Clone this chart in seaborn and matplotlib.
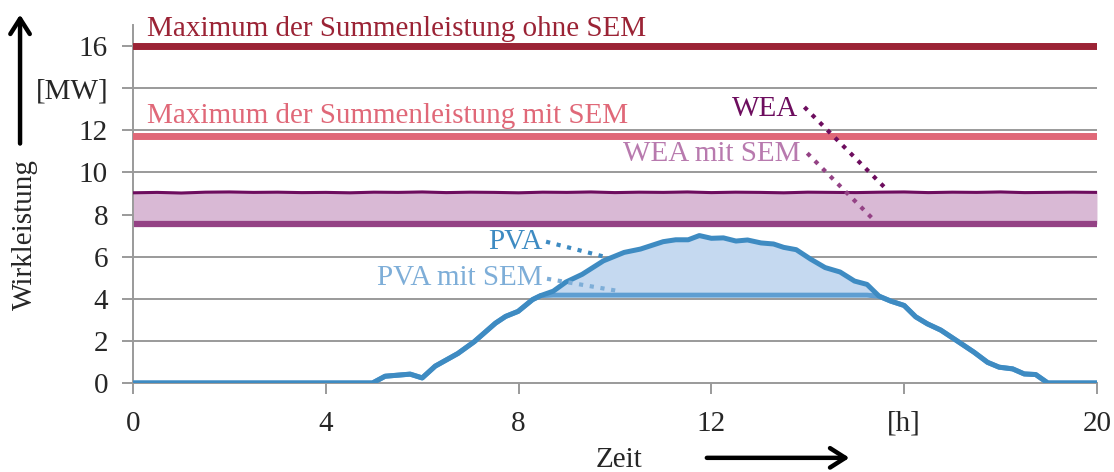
import matplotlib
matplotlib.use("Agg")
import matplotlib.pyplot as plt
import numpy as np
import pandas as pd
import seaborn as sns

# PV curve (hours, MW)
pva_h = [0, 4.97, 5.23, 5.75, 6.0, 6.27, 6.74, 7.08, 7.52, 7.73, 7.99, 8.29, 8.46,
         8.72, 8.98, 9.32, 9.76, 10.19, 10.53, 11.0, 11.26, 11.52, 11.75, 12.0,
         12.25, 12.51, 12.75, 13.03, 13.29, 13.5, 13.76, 14.06, 14.36, 14.67,
         14.97, 15.23, 15.48, 15.72, 16.0, 16.24, 16.48, 16.76, 17.11, 17.45,
         17.73, 17.97, 18.25, 18.49, 18.73, 18.98, 20]
pva_mw = [0, 0, 0.32, 0.42, 0.24, 0.8, 1.4, 1.96, 2.84, 3.16, 3.4, 3.96, 4.15,
          4.36, 4.79, 5.16, 5.8, 6.2, 6.36, 6.71, 6.8, 6.8, 7.0, 6.87,
          6.89, 6.74, 6.79, 6.65, 6.6, 6.44, 6.33, 5.88, 5.48, 5.27,
          4.84, 4.68, 4.12, 3.89, 3.68, 3.14, 2.81, 2.51, 1.98, 1.46,
          0.98, 0.75, 0.67, 0.43, 0.4, 0, 0]
pva_cap = 4.17

# wind curve, every half hour
wea_h = [i * 0.5 for i in range(41)]
wea_mw = [9.03, 9.05, 9.02, 9.06, 9.07, 9.05, 9.06, 9.04, 9.05, 9.03, 9.06, 9.05,
          9.07, 9.04, 9.06, 9.05, 9.03, 9.06, 9.05, 9.07, 9.04, 9.06, 9.05, 9.07,
          9.04, 9.06, 9.05, 9.03, 9.06, 9.05, 9.04, 9.06, 9.07, 9.04, 9.06, 9.05,
          9.07, 9.04, 9.05, 9.06, 9.05]
wea_sem = 7.55

max_ohne_sem = 16.0
max_mit_sem = 11.74

y_ticks = [0, 2, 4, 6, 8, 10, 12, 14, 16]
y_labels = ["0", "2", "4", "6", "8", "10", "12", "[MW]", "16"]
x_ticks = [0, 4, 8, 12, 16, 20]
x_labels = ["0", "4", "8", "12", "[h]", "20"]

c_max_ohne = "#9b2335"
c_max_mit = "#e06878"
c_wea = "#6d0d5e"
c_wea_sem = "#944285"
c_wea_sem_txt = "#b87aae"
c_wea_fill = "#d9b9d5"
c_pva = "#3e8bc2"
c_pva_sem = "#5e9ed2"
c_pva_sem_txt = "#7eaed8"
c_pva_fill = "#c5d9f0"
grid_c = "#9a9a9a"

sns.set_theme(style="white")
plt.rcParams["font.family"] = ["Liberation Serif", "DejaVu Serif"]

pva = pd.DataFrame({"h": pva_h, "mw": pva_mw})
pva["sem"] = np.minimum(pva["mw"], pva_cap)
wea = pd.DataFrame({"h": wea_h, "mw": wea_mw})
wea["sem"] = wea_sem

fig = plt.figure(figsize=(11.14, 4.72), dpi=100)
ax = fig.add_axes([0.1194, 0.1886, 0.8653, 0.7585])

for t in y_ticks[1:]:
    ax.axhline(t, color=grid_c, lw=1.4, zorder=0)

# wind
ax.fill_between(wea["h"], wea["sem"], wea["mw"] + 0.08, color=c_wea_fill, lw=0, zorder=1)
sns.lineplot(data=wea, x="h", y="sem", color=c_wea_sem, lw=4.5, ax=ax, zorder=2)
sns.lineplot(data=wea, x="h", y="mw", color=c_wea, lw=2.2, ax=ax, zorder=3)

# limits
ax.axhline(max_ohne_sem, color=c_max_ohne, lw=5, zorder=3)
ax.axhline(max_mit_sem, color=c_max_mit, lw=5, zorder=3)

# PV
ax.fill_between(pva["h"], pva["sem"], pva["mw"], where=pva["mw"] >= pva_cap,
                interpolate=True, color=c_pva_fill, lw=0, zorder=2)
sns.lineplot(data=pva, x="h", y="sem", color=c_pva_sem, lw=3.6, ax=ax, zorder=3)
sns.lineplot(data=pva, x="h", y="mw", color=c_pva, lw=3.6, ax=ax, zorder=4)

fs = 21
ax.text(0.3, 16.2, "Maximum der Summenleistung ohne SEM", color=c_max_ohne,
        fontsize=fs, va="bottom", ha="left")
ax.text(0.3, 12.05, "Maximum der Summenleistung mit SEM", color=c_max_mit,
        fontsize=fs, va="bottom", ha="left")
ax.text(13.8, 13.0, "WEA", color=c_wea, fontsize=fs, va="center", ha="right")
ax.text(13.85, 10.87, "WEA mit SEM", color=c_wea_sem_txt, fontsize=fs,
        va="center", ha="right")
ax.text(8.5, 6.7, "PVA", color=c_pva, fontsize=fs, va="center", ha="right")
ax.text(8.5, 4.97, "PVA mit SEM", color=c_pva_sem_txt, fontsize=fs,
        va="center", ha="right")

dots = (0, (1, 1.6))
ax.plot([13.93, 15.58], [13.1, 9.32], color=c_wea, lw=3, ls=dots, zorder=5)
ax.plot([13.99, 15.35], [10.91, 7.79], color=c_wea_sem, lw=3, ls=dots, zorder=5)
ax.plot([8.57, 9.84], [6.71, 5.96], color=c_pva, lw=3, ls=dots, zorder=5)
ax.plot([8.59, 10.01], [4.95, 4.39], color=c_pva_sem_txt, lw=3, ls=dots, zorder=5)

ax.set_xlim(0, 20)
ax.set_ylim(0, 17)
ax.set_xticks(x_ticks)
ax.set_xticklabels(x_labels, fontsize=fs)
ax.set_yticks(y_ticks)
ax.set_yticklabels(y_labels, fontsize=fs)
ax.tick_params(axis="both", length=8, width=1.4, color=grid_c,
               direction="out", bottom=True, left=True)
ax.tick_params(axis="x", pad=12)
ax.tick_params(axis="y", pad=10)
ax.set_xlabel("")
ax.set_ylabel("")
sns.despine(ax=ax, top=True, right=True)
for s in ["left", "bottom"]:
    ax.spines[s].set_color(grid_c)
    ax.spines[s].set_linewidth(1.4)

fig.text(0.022, 0.502, "Wirkleistung", rotation=90, fontsize=fs, ha="center",
         va="center")
fig.patches.append(matplotlib.patches.FancyArrowPatch(
    (0.018, 0.69), (0.018, 0.975), transform=fig.transFigure,
    arrowstyle="->,head_width=7,head_length=11", lw=3.2, color="black",
    mutation_scale=1))
fig.text(0.556, 0.025, "Zeit", fontsize=fs, ha="center", va="center")
fig.patches.append(matplotlib.patches.FancyArrowPatch(
    (0.632, 0.03), (0.765, 0.03), transform=fig.transFigure,
    arrowstyle="->,head_width=7,head_length=11", lw=3.2, color="black",
    mutation_scale=1))

fig.savefig("out.png", dpi=100)
